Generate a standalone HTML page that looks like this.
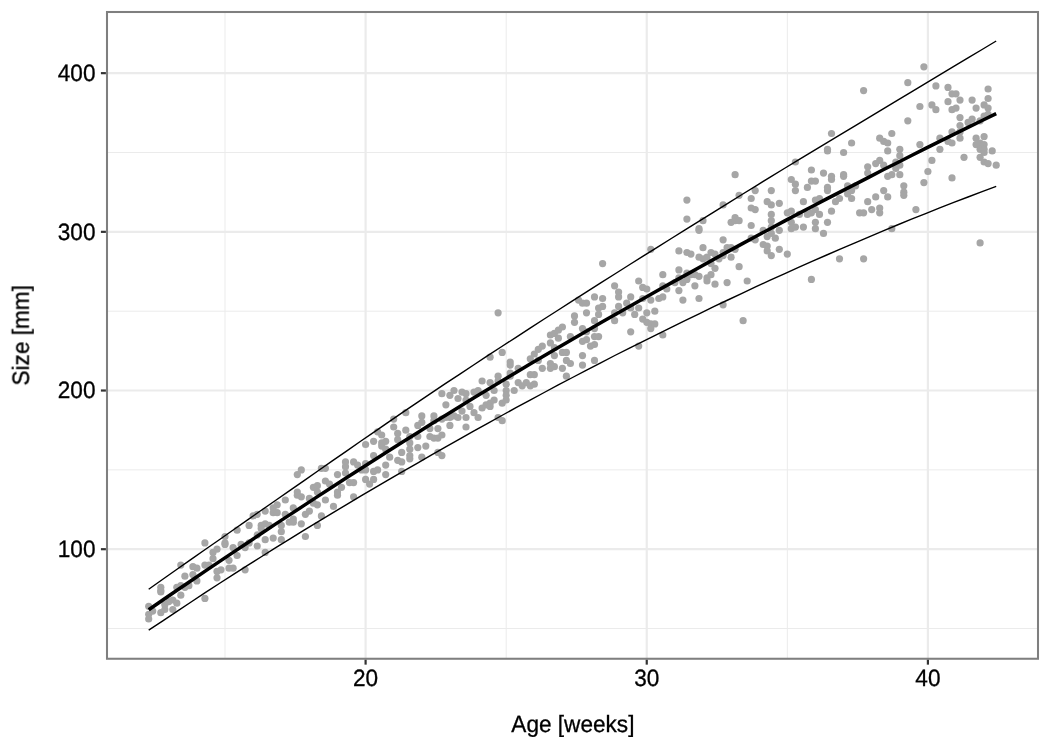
<!DOCTYPE html>
<html lang="en"><head><meta charset="utf-8"><title>Size vs Age</title>
<style>
html,body{margin:0;padding:0;background:#fff;}
body{width:1050px;height:750px;overflow:hidden;}
svg{display:block;}
text{font-family:"Liberation Sans",Arial,Helvetica,sans-serif;font-size:22.6px;will-change:transform;text-rendering:geometricPrecision;}
.tk{fill:#000;stroke:#000;stroke-width:0.3px;}
.ti{fill:#000;stroke:#000;stroke-width:0.3px;}
.gM{stroke:#ebebeb;stroke-width:2.2;fill:none;}
.gm{stroke:#ebebeb;stroke-width:1.0;fill:none;}
.p circle{fill:#a6a6a6;}
.tick{stroke:#333;stroke-width:2.2;fill:none;}
</style></head><body>
<svg width="1050" height="750" viewBox="0 0 1050 750">
<rect x="0" y="0" width="1050" height="750" fill="#ffffff"/>
<defs><clipPath id="cp"><rect x="107.00" y="12.00" width="931.00" height="646.75"/></clipPath></defs>
<g clip-path="url(#cp)">
<line class="gm" x1="107.00" x2="1038.00" y1="628.54" y2="628.54"/>
<line class="gm" x1="107.00" x2="1038.00" y1="469.86" y2="469.86"/>
<line class="gm" x1="107.00" x2="1038.00" y1="311.18" y2="311.18"/>
<line class="gm" x1="107.00" x2="1038.00" y1="152.50" y2="152.50"/>
<line class="gm" x1="225.02" x2="225.02" y1="12.00" y2="658.75"/>
<line class="gm" x1="506.18" x2="506.18" y1="12.00" y2="658.75"/>
<line class="gm" x1="787.33" x2="787.33" y1="12.00" y2="658.75"/>
<line class="gM" x1="107.00" x2="1038.00" y1="549.20" y2="549.20"/>
<line class="gM" x1="107.00" x2="1038.00" y1="390.52" y2="390.52"/>
<line class="gM" x1="107.00" x2="1038.00" y1="231.84" y2="231.84"/>
<line class="gM" x1="107.00" x2="1038.00" y1="73.16" y2="73.16"/>
<line class="gM" x1="365.60" x2="365.60" y1="12.00" y2="658.75"/>
<line class="gM" x1="646.75" x2="646.75" y1="12.00" y2="658.75"/>
<line class="gM" x1="927.90" x2="927.90" y1="12.00" y2="658.75"/>
<g class="p">
<circle cx="148.7" cy="606.3" r="3.6"/>
<circle cx="148.7" cy="614.3" r="3.6"/>
<circle cx="148.7" cy="619.0" r="3.6"/>
<circle cx="152.7" cy="611.1" r="3.6"/>
<circle cx="160.8" cy="587.3" r="3.6"/>
<circle cx="160.8" cy="590.5" r="3.6"/>
<circle cx="160.8" cy="612.7" r="3.6"/>
<circle cx="164.8" cy="609.5" r="3.6"/>
<circle cx="164.8" cy="604.7" r="3.6"/>
<circle cx="168.8" cy="601.6" r="3.6"/>
<circle cx="172.8" cy="600.0" r="3.6"/>
<circle cx="172.8" cy="609.5" r="3.6"/>
<circle cx="176.8" cy="587.3" r="3.6"/>
<circle cx="176.8" cy="603.2" r="3.6"/>
<circle cx="180.8" cy="565.1" r="3.6"/>
<circle cx="180.8" cy="585.7" r="3.6"/>
<circle cx="180.8" cy="595.2" r="3.6"/>
<circle cx="184.9" cy="576.2" r="3.6"/>
<circle cx="184.9" cy="587.3" r="3.6"/>
<circle cx="188.9" cy="585.7" r="3.6"/>
<circle cx="192.9" cy="566.7" r="3.6"/>
<circle cx="192.9" cy="574.6" r="3.6"/>
<circle cx="196.9" cy="568.2" r="3.6"/>
<circle cx="196.9" cy="580.9" r="3.6"/>
<circle cx="204.9" cy="542.9" r="3.6"/>
<circle cx="204.9" cy="565.1" r="3.6"/>
<circle cx="204.9" cy="598.4" r="3.6"/>
<circle cx="209.0" cy="565.1" r="3.6"/>
<circle cx="213.0" cy="552.4" r="3.6"/>
<circle cx="213.0" cy="558.7" r="3.6"/>
<circle cx="217.0" cy="549.2" r="3.6"/>
<circle cx="217.0" cy="571.4" r="3.6"/>
<circle cx="217.0" cy="577.8" r="3.6"/>
<circle cx="221.0" cy="569.8" r="3.6"/>
<circle cx="225.0" cy="536.5" r="3.6"/>
<circle cx="225.0" cy="542.9" r="3.6"/>
<circle cx="229.0" cy="560.3" r="3.6"/>
<circle cx="229.0" cy="568.2" r="3.6"/>
<circle cx="233.1" cy="547.6" r="3.6"/>
<circle cx="233.1" cy="568.2" r="3.6"/>
<circle cx="237.1" cy="530.2" r="3.6"/>
<circle cx="237.1" cy="555.5" r="3.6"/>
<circle cx="241.1" cy="544.4" r="3.6"/>
<circle cx="245.1" cy="547.6" r="3.6"/>
<circle cx="245.1" cy="569.8" r="3.6"/>
<circle cx="249.1" cy="542.9" r="3.6"/>
<circle cx="257.2" cy="514.3" r="3.6"/>
<circle cx="257.2" cy="534.9" r="3.6"/>
<circle cx="257.2" cy="546.0" r="3.6"/>
<circle cx="261.2" cy="525.4" r="3.6"/>
<circle cx="261.2" cy="528.6" r="3.6"/>
<circle cx="265.2" cy="511.1" r="3.6"/>
<circle cx="265.2" cy="523.8" r="3.6"/>
<circle cx="265.2" cy="539.7" r="3.6"/>
<circle cx="265.2" cy="552.4" r="3.6"/>
<circle cx="269.2" cy="525.4" r="3.6"/>
<circle cx="273.2" cy="507.9" r="3.6"/>
<circle cx="273.2" cy="512.7" r="3.6"/>
<circle cx="273.2" cy="538.1" r="3.6"/>
<circle cx="277.2" cy="504.8" r="3.6"/>
<circle cx="277.2" cy="512.7" r="3.6"/>
<circle cx="281.3" cy="525.4" r="3.6"/>
<circle cx="281.3" cy="531.7" r="3.6"/>
<circle cx="281.3" cy="539.7" r="3.6"/>
<circle cx="285.3" cy="500.0" r="3.6"/>
<circle cx="285.3" cy="514.3" r="3.6"/>
<circle cx="289.3" cy="522.2" r="3.6"/>
<circle cx="293.3" cy="507.9" r="3.6"/>
<circle cx="293.3" cy="519.1" r="3.6"/>
<circle cx="293.3" cy="522.2" r="3.6"/>
<circle cx="297.3" cy="474.6" r="3.6"/>
<circle cx="297.3" cy="492.1" r="3.6"/>
<circle cx="297.3" cy="495.2" r="3.6"/>
<circle cx="301.3" cy="469.9" r="3.6"/>
<circle cx="301.3" cy="496.8" r="3.6"/>
<circle cx="301.3" cy="523.8" r="3.6"/>
<circle cx="305.4" cy="514.3" r="3.6"/>
<circle cx="305.4" cy="536.5" r="3.6"/>
<circle cx="309.4" cy="498.4" r="3.6"/>
<circle cx="309.4" cy="511.1" r="3.6"/>
<circle cx="313.4" cy="487.3" r="3.6"/>
<circle cx="313.4" cy="503.2" r="3.6"/>
<circle cx="317.4" cy="485.7" r="3.6"/>
<circle cx="317.4" cy="492.1" r="3.6"/>
<circle cx="317.4" cy="504.8" r="3.6"/>
<circle cx="317.4" cy="525.4" r="3.6"/>
<circle cx="321.4" cy="468.3" r="3.6"/>
<circle cx="321.4" cy="515.9" r="3.6"/>
<circle cx="325.4" cy="468.3" r="3.6"/>
<circle cx="325.4" cy="481.0" r="3.6"/>
<circle cx="325.4" cy="500.0" r="3.6"/>
<circle cx="329.5" cy="484.1" r="3.6"/>
<circle cx="333.5" cy="506.4" r="3.6"/>
<circle cx="337.5" cy="474.6" r="3.6"/>
<circle cx="337.5" cy="492.1" r="3.6"/>
<circle cx="337.5" cy="495.2" r="3.6"/>
<circle cx="341.5" cy="487.3" r="3.6"/>
<circle cx="345.5" cy="461.9" r="3.6"/>
<circle cx="345.5" cy="466.7" r="3.6"/>
<circle cx="345.5" cy="473.0" r="3.6"/>
<circle cx="349.5" cy="482.6" r="3.6"/>
<circle cx="353.6" cy="461.9" r="3.6"/>
<circle cx="353.6" cy="482.6" r="3.6"/>
<circle cx="353.6" cy="496.8" r="3.6"/>
<circle cx="357.6" cy="465.1" r="3.6"/>
<circle cx="361.6" cy="469.9" r="3.6"/>
<circle cx="365.6" cy="444.5" r="3.6"/>
<circle cx="365.6" cy="463.5" r="3.6"/>
<circle cx="365.6" cy="469.9" r="3.6"/>
<circle cx="365.6" cy="479.4" r="3.6"/>
<circle cx="369.6" cy="484.1" r="3.6"/>
<circle cx="373.6" cy="441.3" r="3.6"/>
<circle cx="373.6" cy="455.6" r="3.6"/>
<circle cx="373.6" cy="471.4" r="3.6"/>
<circle cx="373.6" cy="479.4" r="3.6"/>
<circle cx="377.6" cy="431.8" r="3.6"/>
<circle cx="377.6" cy="469.9" r="3.6"/>
<circle cx="381.7" cy="435.0" r="3.6"/>
<circle cx="381.7" cy="442.9" r="3.6"/>
<circle cx="381.7" cy="446.1" r="3.6"/>
<circle cx="385.7" cy="441.3" r="3.6"/>
<circle cx="385.7" cy="449.2" r="3.6"/>
<circle cx="385.7" cy="465.1" r="3.6"/>
<circle cx="385.7" cy="474.6" r="3.6"/>
<circle cx="389.7" cy="457.2" r="3.6"/>
<circle cx="393.7" cy="419.1" r="3.6"/>
<circle cx="393.7" cy="427.0" r="3.6"/>
<circle cx="397.7" cy="433.4" r="3.6"/>
<circle cx="397.7" cy="439.7" r="3.6"/>
<circle cx="397.7" cy="460.3" r="3.6"/>
<circle cx="401.7" cy="452.4" r="3.6"/>
<circle cx="401.7" cy="461.9" r="3.6"/>
<circle cx="401.7" cy="471.4" r="3.6"/>
<circle cx="405.8" cy="412.7" r="3.6"/>
<circle cx="405.8" cy="430.2" r="3.6"/>
<circle cx="409.8" cy="436.5" r="3.6"/>
<circle cx="409.8" cy="442.9" r="3.6"/>
<circle cx="409.8" cy="449.2" r="3.6"/>
<circle cx="409.8" cy="455.6" r="3.6"/>
<circle cx="409.8" cy="458.8" r="3.6"/>
<circle cx="417.8" cy="425.4" r="3.6"/>
<circle cx="417.8" cy="436.5" r="3.6"/>
<circle cx="417.8" cy="447.6" r="3.6"/>
<circle cx="421.8" cy="415.9" r="3.6"/>
<circle cx="421.8" cy="422.3" r="3.6"/>
<circle cx="421.8" cy="457.2" r="3.6"/>
<circle cx="425.8" cy="446.1" r="3.6"/>
<circle cx="429.9" cy="428.6" r="3.6"/>
<circle cx="429.9" cy="436.5" r="3.6"/>
<circle cx="433.9" cy="415.9" r="3.6"/>
<circle cx="433.9" cy="420.7" r="3.6"/>
<circle cx="433.9" cy="438.1" r="3.6"/>
<circle cx="437.9" cy="428.6" r="3.6"/>
<circle cx="437.9" cy="438.1" r="3.6"/>
<circle cx="437.9" cy="452.4" r="3.6"/>
<circle cx="441.9" cy="393.7" r="3.6"/>
<circle cx="441.9" cy="419.1" r="3.6"/>
<circle cx="441.9" cy="435.0" r="3.6"/>
<circle cx="441.9" cy="455.6" r="3.6"/>
<circle cx="445.9" cy="404.8" r="3.6"/>
<circle cx="445.9" cy="417.5" r="3.6"/>
<circle cx="449.9" cy="395.3" r="3.6"/>
<circle cx="449.9" cy="417.5" r="3.6"/>
<circle cx="449.9" cy="425.4" r="3.6"/>
<circle cx="454.0" cy="390.5" r="3.6"/>
<circle cx="454.0" cy="415.9" r="3.6"/>
<circle cx="458.0" cy="398.5" r="3.6"/>
<circle cx="458.0" cy="417.5" r="3.6"/>
<circle cx="462.0" cy="392.1" r="3.6"/>
<circle cx="462.0" cy="411.1" r="3.6"/>
<circle cx="466.0" cy="393.7" r="3.6"/>
<circle cx="466.0" cy="400.0" r="3.6"/>
<circle cx="466.0" cy="417.5" r="3.6"/>
<circle cx="466.0" cy="427.0" r="3.6"/>
<circle cx="470.0" cy="406.4" r="3.6"/>
<circle cx="474.0" cy="392.1" r="3.6"/>
<circle cx="474.0" cy="412.7" r="3.6"/>
<circle cx="478.1" cy="390.5" r="3.6"/>
<circle cx="478.1" cy="417.5" r="3.6"/>
<circle cx="482.1" cy="381.0" r="3.6"/>
<circle cx="482.1" cy="408.0" r="3.6"/>
<circle cx="486.1" cy="395.3" r="3.6"/>
<circle cx="486.1" cy="404.8" r="3.6"/>
<circle cx="490.1" cy="357.2" r="3.6"/>
<circle cx="490.1" cy="382.6" r="3.6"/>
<circle cx="490.1" cy="403.2" r="3.6"/>
<circle cx="490.1" cy="406.4" r="3.6"/>
<circle cx="494.1" cy="390.5" r="3.6"/>
<circle cx="494.1" cy="400.0" r="3.6"/>
<circle cx="498.1" cy="376.2" r="3.6"/>
<circle cx="498.1" cy="381.0" r="3.6"/>
<circle cx="498.1" cy="417.5" r="3.6"/>
<circle cx="502.2" cy="352.4" r="3.6"/>
<circle cx="502.2" cy="403.2" r="3.6"/>
<circle cx="502.2" cy="420.7" r="3.6"/>
<circle cx="506.2" cy="384.2" r="3.6"/>
<circle cx="506.2" cy="390.5" r="3.6"/>
<circle cx="506.2" cy="395.3" r="3.6"/>
<circle cx="506.2" cy="400.0" r="3.6"/>
<circle cx="510.2" cy="362.0" r="3.6"/>
<circle cx="510.2" cy="365.1" r="3.6"/>
<circle cx="510.2" cy="373.1" r="3.6"/>
<circle cx="510.2" cy="376.2" r="3.6"/>
<circle cx="514.2" cy="390.5" r="3.6"/>
<circle cx="518.2" cy="368.3" r="3.6"/>
<circle cx="518.2" cy="382.6" r="3.6"/>
<circle cx="522.2" cy="385.8" r="3.6"/>
<circle cx="526.3" cy="382.6" r="3.6"/>
<circle cx="530.3" cy="358.8" r="3.6"/>
<circle cx="530.3" cy="374.7" r="3.6"/>
<circle cx="530.3" cy="385.8" r="3.6"/>
<circle cx="534.3" cy="354.0" r="3.6"/>
<circle cx="534.3" cy="374.7" r="3.6"/>
<circle cx="534.3" cy="384.2" r="3.6"/>
<circle cx="538.3" cy="349.3" r="3.6"/>
<circle cx="538.3" cy="360.4" r="3.6"/>
<circle cx="542.3" cy="346.1" r="3.6"/>
<circle cx="542.3" cy="368.3" r="3.6"/>
<circle cx="550.4" cy="335.0" r="3.6"/>
<circle cx="550.4" cy="342.9" r="3.6"/>
<circle cx="550.4" cy="363.5" r="3.6"/>
<circle cx="550.4" cy="368.3" r="3.6"/>
<circle cx="554.4" cy="333.4" r="3.6"/>
<circle cx="554.4" cy="347.7" r="3.6"/>
<circle cx="554.4" cy="355.6" r="3.6"/>
<circle cx="554.4" cy="366.7" r="3.6"/>
<circle cx="558.4" cy="330.2" r="3.6"/>
<circle cx="558.4" cy="338.2" r="3.6"/>
<circle cx="562.4" cy="327.0" r="3.6"/>
<circle cx="562.4" cy="352.4" r="3.6"/>
<circle cx="562.4" cy="368.3" r="3.6"/>
<circle cx="566.4" cy="352.4" r="3.6"/>
<circle cx="566.4" cy="360.4" r="3.6"/>
<circle cx="566.4" cy="376.2" r="3.6"/>
<circle cx="570.4" cy="336.6" r="3.6"/>
<circle cx="570.4" cy="363.5" r="3.6"/>
<circle cx="574.5" cy="315.9" r="3.6"/>
<circle cx="574.5" cy="322.3" r="3.6"/>
<circle cx="578.5" cy="300.1" r="3.6"/>
<circle cx="582.5" cy="303.2" r="3.6"/>
<circle cx="582.5" cy="328.6" r="3.6"/>
<circle cx="582.5" cy="341.3" r="3.6"/>
<circle cx="582.5" cy="355.6" r="3.6"/>
<circle cx="582.5" cy="365.1" r="3.6"/>
<circle cx="586.5" cy="303.2" r="3.6"/>
<circle cx="586.5" cy="312.8" r="3.6"/>
<circle cx="586.5" cy="331.8" r="3.6"/>
<circle cx="586.5" cy="339.7" r="3.6"/>
<circle cx="590.5" cy="346.1" r="3.6"/>
<circle cx="594.5" cy="296.9" r="3.6"/>
<circle cx="594.5" cy="320.7" r="3.6"/>
<circle cx="594.5" cy="328.6" r="3.6"/>
<circle cx="594.5" cy="336.6" r="3.6"/>
<circle cx="594.5" cy="344.5" r="3.6"/>
<circle cx="594.5" cy="360.4" r="3.6"/>
<circle cx="598.6" cy="308.0" r="3.6"/>
<circle cx="598.6" cy="314.4" r="3.6"/>
<circle cx="598.6" cy="336.6" r="3.6"/>
<circle cx="602.6" cy="298.5" r="3.6"/>
<circle cx="602.6" cy="306.4" r="3.6"/>
<circle cx="614.6" cy="285.8" r="3.6"/>
<circle cx="614.6" cy="312.8" r="3.6"/>
<circle cx="614.6" cy="320.7" r="3.6"/>
<circle cx="618.6" cy="292.1" r="3.6"/>
<circle cx="618.6" cy="296.9" r="3.6"/>
<circle cx="618.6" cy="306.4" r="3.6"/>
<circle cx="622.7" cy="312.8" r="3.6"/>
<circle cx="626.7" cy="303.2" r="3.6"/>
<circle cx="630.7" cy="296.9" r="3.6"/>
<circle cx="630.7" cy="308.0" r="3.6"/>
<circle cx="630.7" cy="331.8" r="3.6"/>
<circle cx="634.7" cy="314.4" r="3.6"/>
<circle cx="638.7" cy="281.0" r="3.6"/>
<circle cx="638.7" cy="308.0" r="3.6"/>
<circle cx="638.7" cy="346.1" r="3.6"/>
<circle cx="642.7" cy="287.4" r="3.6"/>
<circle cx="642.7" cy="298.5" r="3.6"/>
<circle cx="642.7" cy="319.1" r="3.6"/>
<circle cx="646.8" cy="289.0" r="3.6"/>
<circle cx="646.8" cy="312.8" r="3.6"/>
<circle cx="646.8" cy="322.3" r="3.6"/>
<circle cx="650.8" cy="249.3" r="3.6"/>
<circle cx="650.8" cy="300.1" r="3.6"/>
<circle cx="650.8" cy="323.9" r="3.6"/>
<circle cx="650.8" cy="328.6" r="3.6"/>
<circle cx="654.8" cy="311.2" r="3.6"/>
<circle cx="654.8" cy="323.9" r="3.6"/>
<circle cx="658.8" cy="298.5" r="3.6"/>
<circle cx="662.8" cy="274.7" r="3.6"/>
<circle cx="662.8" cy="285.8" r="3.6"/>
<circle cx="662.8" cy="296.9" r="3.6"/>
<circle cx="662.8" cy="335.0" r="3.6"/>
<circle cx="666.8" cy="289.0" r="3.6"/>
<circle cx="674.9" cy="282.6" r="3.6"/>
<circle cx="678.9" cy="250.9" r="3.6"/>
<circle cx="678.9" cy="269.9" r="3.6"/>
<circle cx="678.9" cy="277.9" r="3.6"/>
<circle cx="678.9" cy="290.6" r="3.6"/>
<circle cx="682.9" cy="282.6" r="3.6"/>
<circle cx="682.9" cy="300.1" r="3.6"/>
<circle cx="686.9" cy="252.5" r="3.6"/>
<circle cx="686.9" cy="273.1" r="3.6"/>
<circle cx="686.9" cy="279.4" r="3.6"/>
<circle cx="690.9" cy="254.1" r="3.6"/>
<circle cx="690.9" cy="274.7" r="3.6"/>
<circle cx="694.9" cy="274.7" r="3.6"/>
<circle cx="694.9" cy="285.8" r="3.6"/>
<circle cx="699.0" cy="230.3" r="3.6"/>
<circle cx="699.0" cy="257.2" r="3.6"/>
<circle cx="699.0" cy="276.3" r="3.6"/>
<circle cx="699.0" cy="298.5" r="3.6"/>
<circle cx="703.0" cy="247.7" r="3.6"/>
<circle cx="703.0" cy="258.8" r="3.6"/>
<circle cx="707.0" cy="257.2" r="3.6"/>
<circle cx="707.0" cy="277.9" r="3.6"/>
<circle cx="707.0" cy="281.0" r="3.6"/>
<circle cx="711.0" cy="252.5" r="3.6"/>
<circle cx="711.0" cy="263.6" r="3.6"/>
<circle cx="711.0" cy="274.7" r="3.6"/>
<circle cx="715.0" cy="254.1" r="3.6"/>
<circle cx="715.0" cy="268.3" r="3.6"/>
<circle cx="715.0" cy="284.2" r="3.6"/>
<circle cx="719.0" cy="258.8" r="3.6"/>
<circle cx="723.1" cy="204.9" r="3.6"/>
<circle cx="723.1" cy="239.8" r="3.6"/>
<circle cx="723.1" cy="252.5" r="3.6"/>
<circle cx="723.1" cy="255.6" r="3.6"/>
<circle cx="723.1" cy="304.8" r="3.6"/>
<circle cx="727.1" cy="247.7" r="3.6"/>
<circle cx="727.1" cy="282.6" r="3.6"/>
<circle cx="731.1" cy="222.3" r="3.6"/>
<circle cx="731.1" cy="247.7" r="3.6"/>
<circle cx="731.1" cy="257.2" r="3.6"/>
<circle cx="735.1" cy="174.7" r="3.6"/>
<circle cx="735.1" cy="217.6" r="3.6"/>
<circle cx="735.1" cy="220.7" r="3.6"/>
<circle cx="735.1" cy="249.3" r="3.6"/>
<circle cx="739.1" cy="195.3" r="3.6"/>
<circle cx="739.1" cy="220.7" r="3.6"/>
<circle cx="739.1" cy="266.7" r="3.6"/>
<circle cx="743.1" cy="320.7" r="3.6"/>
<circle cx="747.2" cy="281.0" r="3.6"/>
<circle cx="751.2" cy="198.5" r="3.6"/>
<circle cx="751.2" cy="208.0" r="3.6"/>
<circle cx="751.2" cy="225.5" r="3.6"/>
<circle cx="751.2" cy="238.2" r="3.6"/>
<circle cx="755.2" cy="190.6" r="3.6"/>
<circle cx="755.2" cy="209.6" r="3.6"/>
<circle cx="755.2" cy="239.8" r="3.6"/>
<circle cx="763.2" cy="230.3" r="3.6"/>
<circle cx="763.2" cy="244.5" r="3.6"/>
<circle cx="767.2" cy="201.7" r="3.6"/>
<circle cx="767.2" cy="236.6" r="3.6"/>
<circle cx="767.2" cy="246.1" r="3.6"/>
<circle cx="767.2" cy="250.9" r="3.6"/>
<circle cx="771.3" cy="190.6" r="3.6"/>
<circle cx="771.3" cy="204.9" r="3.6"/>
<circle cx="771.3" cy="214.4" r="3.6"/>
<circle cx="771.3" cy="220.7" r="3.6"/>
<circle cx="771.3" cy="227.1" r="3.6"/>
<circle cx="771.3" cy="233.4" r="3.6"/>
<circle cx="771.3" cy="255.6" r="3.6"/>
<circle cx="775.3" cy="238.2" r="3.6"/>
<circle cx="779.3" cy="203.3" r="3.6"/>
<circle cx="779.3" cy="230.3" r="3.6"/>
<circle cx="779.3" cy="249.3" r="3.6"/>
<circle cx="787.3" cy="212.8" r="3.6"/>
<circle cx="787.3" cy="254.1" r="3.6"/>
<circle cx="791.3" cy="179.5" r="3.6"/>
<circle cx="791.3" cy="211.2" r="3.6"/>
<circle cx="791.3" cy="222.3" r="3.6"/>
<circle cx="791.3" cy="228.7" r="3.6"/>
<circle cx="795.4" cy="162.0" r="3.6"/>
<circle cx="795.4" cy="184.2" r="3.6"/>
<circle cx="795.4" cy="190.6" r="3.6"/>
<circle cx="795.4" cy="227.1" r="3.6"/>
<circle cx="799.4" cy="214.4" r="3.6"/>
<circle cx="803.4" cy="201.7" r="3.6"/>
<circle cx="803.4" cy="227.1" r="3.6"/>
<circle cx="807.4" cy="187.4" r="3.6"/>
<circle cx="807.4" cy="214.4" r="3.6"/>
<circle cx="811.4" cy="170.0" r="3.6"/>
<circle cx="811.4" cy="181.1" r="3.6"/>
<circle cx="811.4" cy="212.8" r="3.6"/>
<circle cx="811.4" cy="279.4" r="3.6"/>
<circle cx="815.4" cy="181.1" r="3.6"/>
<circle cx="815.4" cy="200.1" r="3.6"/>
<circle cx="815.4" cy="209.6" r="3.6"/>
<circle cx="815.4" cy="222.3" r="3.6"/>
<circle cx="815.4" cy="228.7" r="3.6"/>
<circle cx="819.5" cy="198.5" r="3.6"/>
<circle cx="819.5" cy="214.4" r="3.6"/>
<circle cx="823.5" cy="173.1" r="3.6"/>
<circle cx="823.5" cy="233.4" r="3.6"/>
<circle cx="827.5" cy="149.3" r="3.6"/>
<circle cx="827.5" cy="150.9" r="3.6"/>
<circle cx="827.5" cy="187.4" r="3.6"/>
<circle cx="827.5" cy="190.6" r="3.6"/>
<circle cx="827.5" cy="222.3" r="3.6"/>
<circle cx="831.5" cy="133.5" r="3.6"/>
<circle cx="831.5" cy="176.3" r="3.6"/>
<circle cx="831.5" cy="179.5" r="3.6"/>
<circle cx="831.5" cy="211.2" r="3.6"/>
<circle cx="835.5" cy="201.7" r="3.6"/>
<circle cx="839.5" cy="198.5" r="3.6"/>
<circle cx="839.5" cy="258.8" r="3.6"/>
<circle cx="843.6" cy="152.5" r="3.6"/>
<circle cx="843.6" cy="174.7" r="3.6"/>
<circle cx="843.6" cy="176.3" r="3.6"/>
<circle cx="847.6" cy="185.8" r="3.6"/>
<circle cx="847.6" cy="193.8" r="3.6"/>
<circle cx="851.6" cy="143.0" r="3.6"/>
<circle cx="851.6" cy="190.6" r="3.6"/>
<circle cx="851.6" cy="198.5" r="3.6"/>
<circle cx="855.6" cy="185.8" r="3.6"/>
<circle cx="859.6" cy="212.8" r="3.6"/>
<circle cx="863.6" cy="212.8" r="3.6"/>
<circle cx="863.6" cy="258.8" r="3.6"/>
<circle cx="867.7" cy="166.8" r="3.6"/>
<circle cx="867.7" cy="173.1" r="3.6"/>
<circle cx="867.7" cy="201.7" r="3.6"/>
<circle cx="871.7" cy="209.6" r="3.6"/>
<circle cx="875.7" cy="163.6" r="3.6"/>
<circle cx="875.7" cy="196.9" r="3.6"/>
<circle cx="879.7" cy="138.2" r="3.6"/>
<circle cx="879.7" cy="160.4" r="3.6"/>
<circle cx="879.7" cy="208.0" r="3.6"/>
<circle cx="879.7" cy="212.8" r="3.6"/>
<circle cx="883.7" cy="141.4" r="3.6"/>
<circle cx="883.7" cy="165.2" r="3.6"/>
<circle cx="883.7" cy="190.6" r="3.6"/>
<circle cx="887.7" cy="143.0" r="3.6"/>
<circle cx="887.7" cy="150.9" r="3.6"/>
<circle cx="887.7" cy="176.3" r="3.6"/>
<circle cx="887.7" cy="196.9" r="3.6"/>
<circle cx="891.8" cy="133.5" r="3.6"/>
<circle cx="891.8" cy="174.7" r="3.6"/>
<circle cx="891.8" cy="228.7" r="3.6"/>
<circle cx="895.8" cy="162.0" r="3.6"/>
<circle cx="895.8" cy="168.4" r="3.6"/>
<circle cx="899.8" cy="149.3" r="3.6"/>
<circle cx="899.8" cy="155.7" r="3.6"/>
<circle cx="899.8" cy="165.2" r="3.6"/>
<circle cx="899.8" cy="174.7" r="3.6"/>
<circle cx="903.8" cy="185.8" r="3.6"/>
<circle cx="903.8" cy="192.2" r="3.6"/>
<circle cx="903.8" cy="195.3" r="3.6"/>
<circle cx="907.8" cy="82.7" r="3.6"/>
<circle cx="907.8" cy="120.8" r="3.6"/>
<circle cx="915.9" cy="209.6" r="3.6"/>
<circle cx="919.9" cy="106.5" r="3.6"/>
<circle cx="919.9" cy="144.6" r="3.6"/>
<circle cx="923.9" cy="66.8" r="3.6"/>
<circle cx="923.9" cy="182.6" r="3.6"/>
<circle cx="927.9" cy="171.5" r="3.6"/>
<circle cx="931.9" cy="104.9" r="3.6"/>
<circle cx="931.9" cy="160.4" r="3.6"/>
<circle cx="935.9" cy="85.9" r="3.6"/>
<circle cx="935.9" cy="109.7" r="3.6"/>
<circle cx="939.9" cy="138.2" r="3.6"/>
<circle cx="939.9" cy="149.3" r="3.6"/>
<circle cx="948.0" cy="87.4" r="3.6"/>
<circle cx="948.0" cy="101.7" r="3.6"/>
<circle cx="948.0" cy="141.4" r="3.6"/>
<circle cx="952.0" cy="93.8" r="3.6"/>
<circle cx="952.0" cy="109.7" r="3.6"/>
<circle cx="952.0" cy="131.9" r="3.6"/>
<circle cx="952.0" cy="143.0" r="3.6"/>
<circle cx="952.0" cy="177.9" r="3.6"/>
<circle cx="956.0" cy="93.8" r="3.6"/>
<circle cx="956.0" cy="108.1" r="3.6"/>
<circle cx="960.0" cy="100.1" r="3.6"/>
<circle cx="960.0" cy="117.6" r="3.6"/>
<circle cx="960.0" cy="125.5" r="3.6"/>
<circle cx="960.0" cy="131.9" r="3.6"/>
<circle cx="960.0" cy="138.2" r="3.6"/>
<circle cx="964.0" cy="157.3" r="3.6"/>
<circle cx="968.1" cy="122.4" r="3.6"/>
<circle cx="972.1" cy="100.1" r="3.6"/>
<circle cx="972.1" cy="119.2" r="3.6"/>
<circle cx="976.1" cy="108.1" r="3.6"/>
<circle cx="976.1" cy="138.2" r="3.6"/>
<circle cx="976.1" cy="144.6" r="3.6"/>
<circle cx="980.1" cy="120.8" r="3.6"/>
<circle cx="980.1" cy="143.0" r="3.6"/>
<circle cx="980.1" cy="149.3" r="3.6"/>
<circle cx="980.1" cy="157.3" r="3.6"/>
<circle cx="984.1" cy="104.9" r="3.6"/>
<circle cx="984.1" cy="116.0" r="3.6"/>
<circle cx="984.1" cy="136.6" r="3.6"/>
<circle cx="984.1" cy="144.6" r="3.6"/>
<circle cx="984.1" cy="149.3" r="3.6"/>
<circle cx="984.1" cy="152.5" r="3.6"/>
<circle cx="984.1" cy="162.0" r="3.6"/>
<circle cx="988.1" cy="89.0" r="3.6"/>
<circle cx="988.1" cy="98.5" r="3.6"/>
<circle cx="988.1" cy="108.1" r="3.6"/>
<circle cx="988.1" cy="114.4" r="3.6"/>
<circle cx="988.1" cy="163.6" r="3.6"/>
<circle cx="992.2" cy="150.9" r="3.6"/>
<circle cx="996.2" cy="165.2" r="3.6"/>
<circle cx="980.1" cy="242.9" r="3.6"/>
<circle cx="249.1" cy="525.4" r="3.6"/>
<circle cx="253.1" cy="515.9" r="3.6"/>
<circle cx="686.9" cy="200.1" r="3.6"/>
<circle cx="686.9" cy="219.1" r="3.6"/>
<circle cx="703.0" cy="220.7" r="3.6"/>
<circle cx="699.0" cy="228.7" r="3.6"/>
<circle cx="863.6" cy="90.6" r="3.6"/>
<circle cx="498.1" cy="312.8" r="3.6"/>
<circle cx="602.6" cy="263.6" r="3.6"/>
<circle cx="160.8" cy="592.0" r="3.6"/>
<circle cx="225.0" cy="544.4" r="3.6"/>
</g>
<path d="M148.7 589.3 L162.8 579.3 L177.0 569.3 L191.1 559.4 L205.2 549.5 L219.3 539.7 L233.5 529.8 L247.6 519.9 L261.7 510.0 L275.8 500.2 L290.0 490.4 L304.1 480.6 L318.2 470.7 L332.3 460.9 L346.5 451.1 L360.6 441.3 L374.7 431.6 L388.8 421.9 L403.0 412.2 L417.1 402.6 L431.2 393.1 L445.3 383.6 L459.5 374.3 L473.6 365.0 L487.7 355.7 L501.8 346.5 L516.0 337.3 L530.1 328.2 L544.2 319.0 L558.3 310.0 L572.5 300.9 L586.6 291.9 L600.7 282.9 L614.8 274.0 L629.0 265.0 L643.1 256.2 L657.2 247.3 L671.3 238.5 L685.5 229.7 L699.6 220.9 L713.7 212.1 L727.8 203.3 L742.0 194.5 L756.1 185.8 L770.2 177.1 L784.3 168.5 L798.5 159.9 L812.6 151.3 L826.7 142.8 L840.8 134.4 L855.0 125.9 L869.1 117.4 L883.2 108.8 L897.3 100.3 L911.5 91.8 L925.6 83.3 L939.7 74.8 L953.8 66.3 L968.0 57.9 L982.1 49.5 L996.2 41.0" fill="none" stroke="#000" stroke-width="1.4"/>
<path d="M148.7 630.2 L162.8 620.8 L177.0 611.3 L191.1 602.0 L205.2 592.7 L219.3 583.5 L233.5 574.4 L247.6 565.4 L261.7 556.5 L275.8 547.6 L290.0 538.8 L304.1 530.2 L318.2 521.6 L332.3 513.1 L346.5 504.6 L360.6 496.2 L374.7 487.9 L388.8 479.6 L403.0 471.4 L417.1 463.3 L431.2 455.2 L445.3 447.2 L459.5 439.2 L473.6 431.2 L487.7 423.3 L501.8 415.5 L516.0 407.7 L530.1 400.1 L544.2 392.5 L558.3 384.9 L572.5 377.5 L586.6 370.1 L600.7 362.8 L614.8 355.5 L629.0 348.4 L643.1 341.3 L657.2 334.3 L671.3 327.3 L685.5 320.4 L699.6 313.6 L713.7 306.7 L727.8 300.0 L742.0 293.3 L756.1 286.7 L770.2 280.2 L784.3 273.8 L798.5 267.4 L812.6 261.1 L826.7 255.0 L840.8 248.8 L855.0 242.8 L869.1 236.8 L883.2 230.9 L897.3 225.0 L911.5 219.2 L925.6 213.6 L939.7 207.9 L953.8 202.4 L968.0 197.0 L982.1 191.6 L996.2 186.3" fill="none" stroke="#000" stroke-width="1.4"/>
<path d="M148.7 609.8 L162.8 600.0 L177.0 590.3 L191.1 580.7 L205.2 571.1 L219.3 561.6 L233.5 552.1 L247.6 542.7 L261.7 533.3 L275.8 523.9 L290.0 514.6 L304.1 505.4 L318.2 496.1 L332.3 487.0 L346.5 477.8 L360.6 468.7 L374.7 459.7 L388.8 450.8 L403.0 441.8 L417.1 433.0 L431.2 424.1 L445.3 415.4 L459.5 406.7 L473.6 398.1 L487.7 389.5 L501.8 381.0 L516.0 372.5 L530.1 364.1 L544.2 355.8 L558.3 347.4 L572.5 339.2 L586.6 331.0 L600.7 322.8 L614.8 314.7 L629.0 306.7 L643.1 298.7 L657.2 290.8 L671.3 282.9 L685.5 275.1 L699.6 267.2 L713.7 259.4 L727.8 251.6 L742.0 243.9 L756.1 236.3 L770.2 228.7 L784.3 221.1 L798.5 213.6 L812.6 206.2 L826.7 198.9 L840.8 191.6 L855.0 184.4 L869.1 177.1 L883.2 169.8 L897.3 162.7 L911.5 155.5 L925.6 148.4 L939.7 141.4 L953.8 134.4 L968.0 127.4 L982.1 120.5 L996.2 113.7" fill="none" stroke="#000" stroke-width="3.5"/>
</g>
<rect x="107.00" y="12.00" width="931.00" height="646.75" fill="none" stroke="#7f7f7f" stroke-width="2.05"/>
<line class="tick" x1="100.90" x2="105.90" y1="549.20" y2="549.20"/>
<text class="tk" transform="translate(95.5 557.10) scale(1 1.045)" text-anchor="end">100</text>
<line class="tick" x1="100.90" x2="105.90" y1="390.52" y2="390.52"/>
<text class="tk" transform="translate(95.5 398.42) scale(1 1.045)" text-anchor="end">200</text>
<line class="tick" x1="100.90" x2="105.90" y1="231.84" y2="231.84"/>
<text class="tk" transform="translate(95.5 239.74) scale(1 1.045)" text-anchor="end">300</text>
<line class="tick" x1="100.90" x2="105.90" y1="73.16" y2="73.16"/>
<text class="tk" transform="translate(95.5 81.06) scale(1 1.045)" text-anchor="end">400</text>
<line class="tick" x1="365.60" x2="365.60" y1="659.75" y2="664.65"/>
<text class="tk" transform="translate(365.60 686.15) scale(1 1.045)" text-anchor="middle">20</text>
<line class="tick" x1="646.75" x2="646.75" y1="659.75" y2="664.65"/>
<text class="tk" transform="translate(646.75 686.15) scale(1 1.045)" text-anchor="middle">30</text>
<line class="tick" x1="927.90" x2="927.90" y1="659.75" y2="664.65"/>
<text class="tk" transform="translate(927.90 686.15) scale(1 1.045)" text-anchor="middle">40</text>
<text class="ti" transform="translate(572.9 732.4) scale(1 1.04)" text-anchor="middle">Age [weeks]</text>
<text class="ti" transform="translate(28.6 335.3) rotate(-90) scale(1 1.04)" text-anchor="middle">Size [mm]</text>
</svg>
</body></html>
